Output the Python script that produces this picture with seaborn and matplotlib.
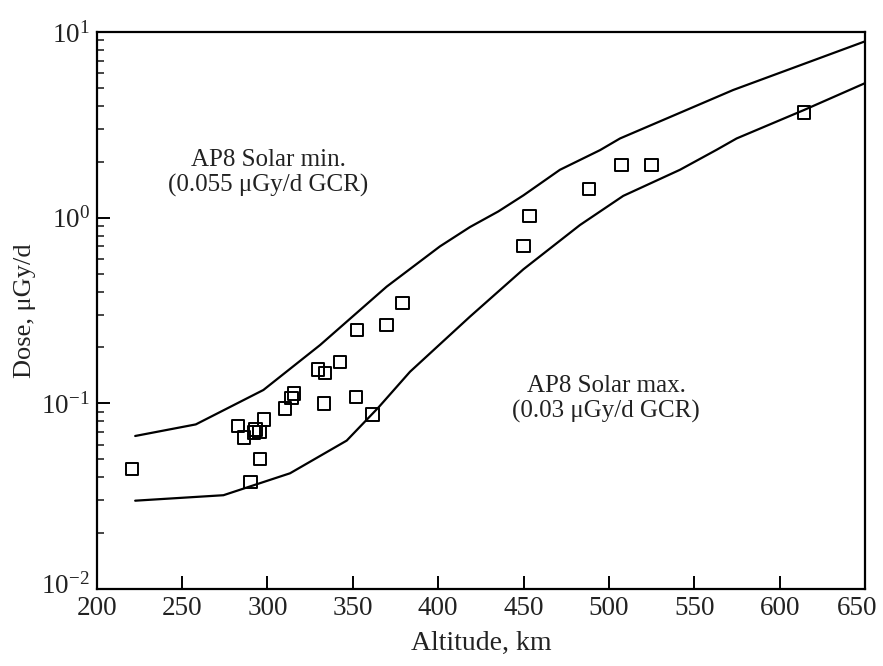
import numpy as np
import pandas as pd
import matplotlib
matplotlib.use("Agg")
import matplotlib.pyplot as plt
import matplotlib.transforms as mtransforms
from matplotlib.ticker import LogLocator, NullFormatter, LogFormatterMathtext, FixedLocator
import seaborn as sns

# AP8 model dose curves (solar minimum / solar maximum)
alt_min = [222.5, 258.0, 297.6, 330.8, 369.8, 401.0, 418.6, 435.2, 450.0, 471.3, 494.8, 506.5, 572.8, 650.0]
dose_min = [0.0667, 0.077, 0.118, 0.206, 0.425, 0.70, 0.89, 1.08, 1.32, 1.81, 2.31, 2.67, 4.87, 8.9]

alt_max = [222.5, 274.2, 313.2, 346.4, 365.0, 383.5, 418.6, 449.9, 483.0, 508.4, 541.6, 563.1, 574.8, 614.3, 650.0]
dose_max = [0.0299, 0.032, 0.042, 0.063, 0.095, 0.148, 0.293, 0.527, 0.912, 1.31, 1.81, 2.32, 2.67, 3.80, 5.30]

# Measured doses
meas_alt = [220.7, 282.6, 286.3, 293.1, 292.1, 295.2, 297.8, 295.6, 290.0, 310.1, 314.0, 315.6,
            333.0, 351.9, 361.4, 342.5, 333.7, 329.6, 352.3, 369.8, 379.2,
            449.9, 453.4, 488.5, 507.4, 525.0, 614.4]
meas_dose = [0.0442, 0.0755, 0.0656, 0.0724, 0.0695, 0.0703, 0.082, 0.050, 0.0377, 0.094, 0.107, 0.113,
             0.100, 0.108, 0.0869, 0.1675, 0.146, 0.152, 0.248, 0.264, 0.348,
             0.706, 1.02, 1.43, 1.92, 1.92, 3.69]

x_ticks = [200, 250, 300, 350, 400, 450, 500, 550, 600, 650]
y_ticks = [1e-2, 1e-1, 1e0, 1e1]

sns.set_theme(style="ticks")
plt.rcParams["font.family"] = ["Liberation Serif", "DejaVu Serif"]
plt.rcParams["mathtext.fontset"] = "custom"
plt.rcParams["mathtext.rm"] = "Liberation Serif"
plt.rcParams["mathtext.it"] = "Liberation Serif:italic"
plt.rcParams["mathtext.bf"] = "Liberation Serif:bold"

curves = pd.concat([
    pd.DataFrame({"alt": alt_min, "dose": dose_min, "model": "min"}),
    pd.DataFrame({"alt": alt_max, "dose": dose_max, "model": "max"}),
])
meas = pd.DataFrame({"alt": meas_alt, "dose": meas_dose})

fig = plt.figure(figsize=(8.83, 6.66), dpi=100)
ax = fig.add_axes([0.1096, 0.1156, 0.8700, 0.8364])

sns.lineplot(data=curves, x="alt", y="dose", units="model", estimator=None,
             color="black", linewidth=1.6, sort=False, ax=ax)
sns.scatterplot(data=meas, x="alt", y="dose", marker="s", s=80,
                facecolor="none", edgecolor="black", linewidth=1.4, ax=ax, zorder=3)

ax.set_yscale("log")
ax.set_xlim(200, 650)
ax.set_ylim(1e-2, 1e1)
ax.xaxis.set_major_locator(FixedLocator(x_ticks))
ax.yaxis.set_major_locator(FixedLocator(y_ticks))
ax.yaxis.set_minor_locator(LogLocator(base=10, subs=np.arange(2, 10), numticks=20))
ax.yaxis.set_major_formatter(LogFormatterMathtext())
ax.yaxis.set_minor_formatter(NullFormatter())

ax.tick_params(axis="both", which="major", direction="in", length=9.5, width=1.4,
               labelsize=19.5, colors="black", pad=5, top=False, right=False)
ax.tick_params(axis="both", which="major", labelcolor="#222222")
ax.tick_params(axis="y", which="minor", direction="in", length=5, width=1.2, right=False)
ax.tick_params(axis="x", which="minor", bottom=False, top=False)

for side in ["left", "right", "top", "bottom"]:
    ax.spines[side].set_visible(True)
    ax.spines[side].set_linewidth(1.6)
    ax.spines[side].set_color("black")

# nudge the corner labels so they stay clear of each other and the figure edge
fig.canvas.draw()
last_x = ax.get_xticklabels()[-1]
last_x.set_transform(last_x.get_transform() +
                     mtransforms.ScaledTranslation(-8 / 100, 0, fig.dpi_scale_trans))
first_y = ax.get_yticklabels()[0]
first_y.set_transform(first_y.get_transform() +
                      mtransforms.ScaledTranslation(0, 6 / 100, fig.dpi_scale_trans))

ax.set_xlabel("Altitude, km", fontsize=20, color="#222222", labelpad=7)
ax.set_ylabel("Dose, μGy/d", fontsize=19, color="#222222", labelpad=4)

ax.text(300.3, 1.74, "AP8 Solar min.\n(0.055 μGy/d GCR)", ha="center", va="center",
        fontsize=18, color="#222222", linespacing=1.15)
ax.text(498.3, 0.106, "AP8 Solar max.\n(0.03 μGy/d GCR)", ha="center", va="center",
        fontsize=18, color="#222222", linespacing=1.15)

fig.savefig("out.png", dpi=100, facecolor="white")
